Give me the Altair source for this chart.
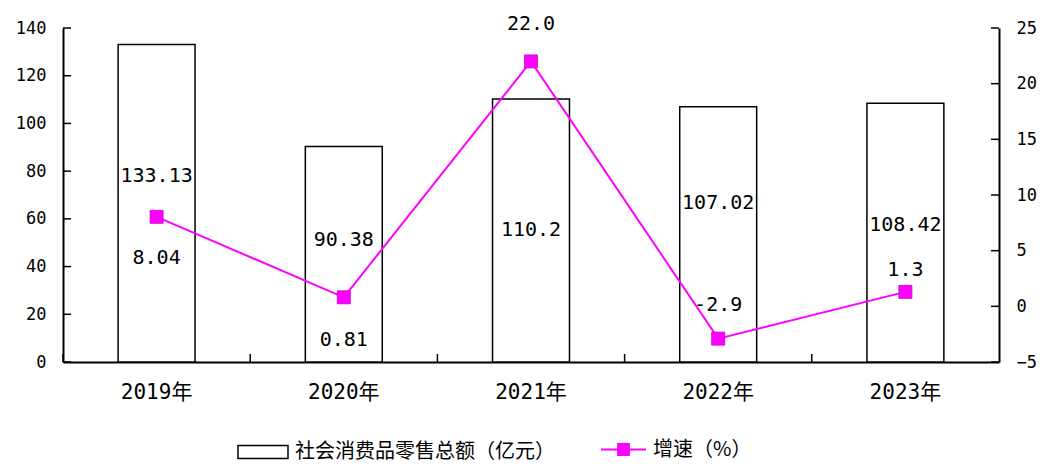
import altair as alt
import pandas as pd

# ---- data ----
years = ["2019年", "2020年", "2021年", "2022年", "2023年"]
sales = [133.13, 90.38, 110.2, 107.02, 108.42]
sales_text = ["133.13", "90.38", "110.2", "107.02", "108.42"]
rate = [8.04, 0.81, 22.0, -2.9, 1.3]
rate_text = ["8.04", "0.81", "22.0", "-2.9", "1.3"]
left_ticks = [0, 20, 40, 60, 80, 100, 120, 140]
right_ticks = [-5, 0, 5, 10, 15, 20, 25]
sales_name = "社会消费品零售总额（亿元）"
rate_name = "增速（%）"

# label nudges below (+) / above (-) the anchor, in pixels (styling only)
sales_label_dy = [132, 94, 131, 96, 122]
rate_label_dy = [41, 43, -37, -34, -22]

df = pd.DataFrame({
    "year": years,
    "sales": sales,
    "sales_text": sales_text,
    "rate": rate,
    "rate_text": rate_text,
    "s_dy": sales_label_dy,
    "r_dy": rate_label_dy,
    "sname": [sales_name] * len(years),
    "rname": [rate_name] * len(years),
})
lt = pd.DataFrame({"t": left_ticks})
rt = pd.DataFrame({"t": right_ticks})

W, H = 936, 334
L_DOM = [0, 140]
R_DOM = [-5, 25]
NUM_FONT = "DejaVu Sans Mono, Noto Sans CJK SC"
CJK_FONT = "Noto Sans CJK SC"
MAGENTA = "#FF00FF"

X_AXIS = alt.Axis(title=None, ticks=False, labelPadding=19, labelFontSize=21,
                  labelFont=NUM_FONT, labelColor="black", labelAngle=0,
                  domainColor="black", domainWidth=2)
X_SCALE = alt.Scale(paddingInner=0, paddingOuter=0)


def xe(**kw):
    return alt.X("year:N", sort=years, scale=X_SCALE, axis=X_AXIS, **kw)


def ys(field, dom):
    return alt.Y(field, scale=alt.Scale(domain=dom, nice=False, zero=False), axis=None)


bars = alt.Chart(df).mark_bar(width=alt.RelativeBandSize(0.411), stroke="black",
                              strokeWidth=1.5).encode(
    x=xe(),
    y=alt.Y("sales:Q", scale=alt.Scale(domain=L_DOM, nice=False, zero=False),
            axis=alt.Axis(title=None, values=left_ticks, ticks=False, grid=False,
                          labelPadding=17, labelFontSize=17, labelFont=NUM_FONT,
                          labelColor="black", domainColor="black", domainWidth=2)),
    fill=alt.Fill("sname:N", scale=alt.Scale(domain=[sales_name], range=["white"]),
                  legend=alt.Legend(title=None, orient="none", legendX=174, legendY=398,
                                    symbolType="M-1,-0.26H1V0.26H-1Z", symbolSize=2500,
                                    symbolStrokeColor="black", symbolStrokeWidth=1.5,
                                    labelFont=CJK_FONT, labelFontSize=20, labelColor="black",
                                    labelLimit=500, labelOffset=6)),
)

bar_labels = alt.Chart(df).transform_calculate(
    lab=f"datum.sales - datum.s_dy * {L_DOM[1] - L_DOM[0]} / {H}"
).mark_text(font=NUM_FONT, fontSize=20, color="black", baseline="middle").encode(
    x=xe(),
    y=ys("lab:Q", L_DOM),
    text="sales_text:N",
)

left_tick_marks = alt.Chart(lt).mark_rule(color="black", strokeWidth=1.5).encode(
    y=ys("t:Q", L_DOM),
    x=alt.value(0), x2=alt.value(8),
)

x_tick_marks = alt.Chart(df).mark_rule(color="black", strokeWidth=1.5).encode(
    x=xe(bandPosition=0),
    y=alt.value(H - 8), y2=alt.value(H),
)

line = alt.Chart(df).mark_line(color=MAGENTA, strokeWidth=2).encode(
    x=xe(),
    y=alt.Y("rate:Q", scale=alt.Scale(domain=R_DOM, nice=False, zero=False),
            axis=alt.Axis(title=None, orient="right", values=right_ticks, ticks=False,
                          grid=False, labelPadding=17, labelFontSize=17, labelFont=NUM_FONT,
                          labelColor="black", domainColor="black", domainWidth=2)),
)

squares = alt.Chart(df).mark_square(size=170, opacity=1, stroke="#CC00CC",
                                    strokeWidth=0.8).encode(
    x=xe(),
    y=ys("rate:Q", R_DOM),
    fill=alt.Fill("rname:N", scale=alt.Scale(domain=[rate_name], range=[MAGENTA]),
                  legend=alt.Legend(title=None, orient="none", legendX=537, legendY=398,
                                    symbolType="M-1,0H1M-0.24,-0.24H0.24V0.24H-0.24Z",
                                    symbolSize=2025, symbolStrokeColor=MAGENTA,
                                    symbolStrokeWidth=2, symbolOpacity=1,
                                    labelFont=CJK_FONT, labelFontSize=20, labelColor="black",
                                    labelLimit=500, labelOffset=6)),
)

rate_labels = alt.Chart(df).transform_calculate(
    lab=f"datum.rate - datum.r_dy * {R_DOM[1] - R_DOM[0]} / {H}"
).mark_text(font=NUM_FONT, fontSize=20, color="black", baseline="middle").encode(
    x=xe(),
    y=ys("lab:Q", R_DOM),
    text="rate_text:N",
)

right_tick_marks = alt.Chart(rt).mark_rule(color="black", strokeWidth=1.5).encode(
    y=ys("t:Q", R_DOM),
    x=alt.value(W - 8), x2=alt.value(W),
)

chart = alt.layer(
    bars, bar_labels, left_tick_marks, x_tick_marks,
    line, squares, rate_labels, right_tick_marks,
).resolve_scale(
    y="independent", fill="independent"
).properties(
    width=W, height=H,
    autosize=alt.AutoSizeParams(type="none"),
    padding={"left": 55, "top": 20, "right": 39, "bottom": 105},
    background="white",
).configure_view(stroke=None)

chart.save("out.html", embed_options={"renderer": "svg", "actions": False})
